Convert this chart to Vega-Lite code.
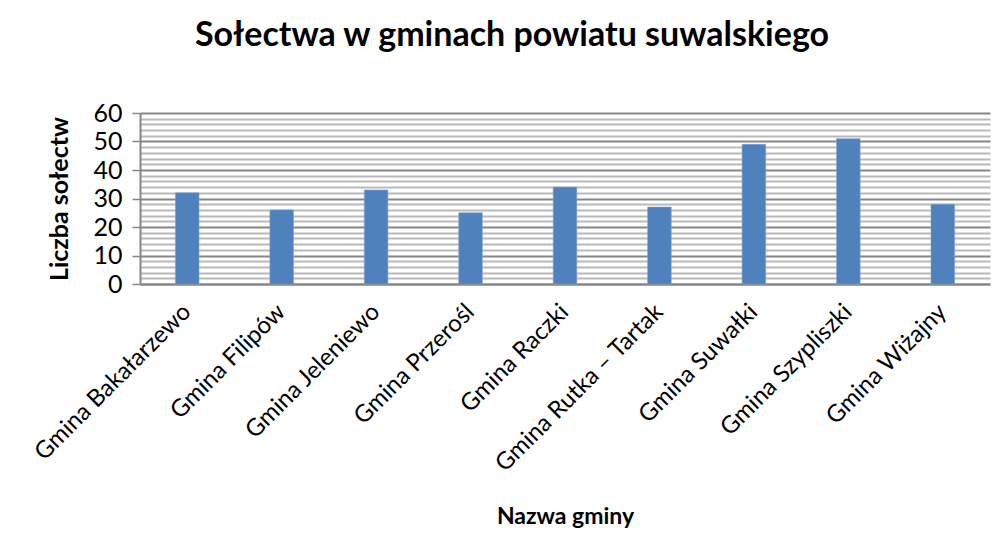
{
  "$schema": "https://vega.github.io/schema/vega-lite/v6.json",
  "autosize": "none",
  "width": 850,
  "height": 171,
  "padding": {"left": 140, "top": 113, "right": 15, "bottom": 268},
  "background": "white",
  "title": {
    "text": "Sołectwa w gminach powiatu suwalskiego",
    "font": "Lato",
    "fontSize": 34,
    "fontWeight": "bold",
    "color": "black",
    "anchor": "middle",
    "frame": "group",
    "baseline": "alphabetic",
    "offset": 21,
    "dx": -53
  },
  "data": {
    "values": [
      {"gmina": "Gmina Bakałarzewo", "liczba": 32},
      {"gmina": "Gmina Filipów", "liczba": 26},
      {"gmina": "Gmina Jeleniewo", "liczba": 33},
      {"gmina": "Gmina Przerośl", "liczba": 25},
      {"gmina": "Gmina Raczki", "liczba": 34},
      {"gmina": "Gmina Rutka – Tartak", "liczba": 27},
      {"gmina": "Gmina Suwałki", "liczba": 49},
      {"gmina": "Gmina Szypliszki", "liczba": 51},
      {"gmina": "Gmina Wiżajny", "liczba": 28}
    ]
  },
  "mark": {"type": "bar", "color": "#4F81BD", "width": {"band": 0.25}, "stroke": "#7FA3D3", "strokeWidth": 0.6},
  "encoding": {
    "x": {
      "field": "gmina",
      "type": "nominal",
      "sort": null,
      "scale": {"paddingInner": 0, "paddingOuter": 0},
      "axis": {
        "title": "Nazwa gminy",
        "titleFont": "Lato",
        "titleFontSize": 23,
        "titleFontWeight": "bold",
        "titleColor": "black",
        "titlePadding": 29,
        "labelFont": "Lato",
        "labelFontSize": 24,
        "labelColor": "black",
        "labelAngle": -45,
        "labelAlign": "right",
        "labelBaseline": "middle",
        "labelPadding": 24,
        "labelOverlap": false,
        "labelLimit": 400,
        "ticks": false,
        "domainColor": "#868686",
        "domainWidth": 2,
        "grid": false
      }
    },
    "y": {
      "field": "liczba",
      "type": "quantitative",
      "scale": {"domain": [0, 60], "nice": false},
      "axis": {
        "title": "Liczba sołectw",
        "titleFont": "Lato",
        "titleFontSize": 25,
        "titleFontWeight": "bold",
        "titleColor": "black",
        "titlePadding": 20,
        "values": [0, 2, 4, 6, 8, 10, 12, 14, 16, 18, 20, 22, 24, 26, 28, 30, 32, 34, 36, 38, 40, 42, 44, 46, 48, 50, 52, 54, 56, 58, 60],
        "labelExpr": "datum.value % 10 === 0 ? datum.label : ''",
        "labelFont": "Lato",
        "labelFontSize": 25,
        "labelColor": "black",
        "labelPadding": 10,
        "tickSize": 8,
        "tickColor": "#868686",
        "tickWidth": 1.5,
        "tickOpacity": {"condition": {"test": "datum.value % 10 === 0", "value": 1}, "value": 0},
        "domainColor": "#868686",
        "domainWidth": 2,
        "grid": true,
        "gridColor": {"condition": {"test": "datum.value % 10 === 0", "value": "#868686"}, "value": "#b9b9b9"},
        "gridWidth": 2
      }
    }
  },
  "config": {"view": {"stroke": null}}
}
